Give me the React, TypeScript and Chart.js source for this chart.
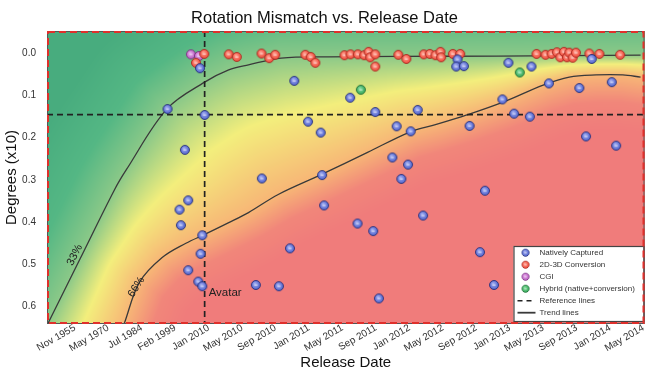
import React, { useEffect, useRef } from 'react';
import { Chart, registerables } from 'chart.js';

Chart.register(...registerables);

const FONT = "'Liberation Sans', Arial, Helvetica, sans-serif";
Chart.defaults.font.family = FONT;

// ---------------- data ----------------
const dateLabels = [
  'Nov 1955', 'May 1970', 'Jul 1984', 'Feb 1999', 'Jan 2010', 'May 2010',
  'Sep 2010', 'Jan 2011', 'May 2011', 'Sep 2011', 'Jan 2012', 'May 2012',
  'Sep 2012', 'Jan 2013', 'May 2013', 'Sep 2013', 'Jan 2014', 'May 2014',
];
const degreeTicks = [0, 0.1, 0.2, 0.3, 0.4, 0.5, 0.6];
const xExtent = [-0.712, 17.148];
const yExtent = [-0.0535, 0.6428];

const avatarDate = 4; // Jan 2010
const referenceDegree = 0.145;

const nativelyCaptured: [number, number][] = [
  [3.86, 0.035], [2.89, 0.132], [4.0, 0.146], [3.41, 0.229], [5.71, 0.297],
  [3.51, 0.349], [3.25, 0.371], [3.29, 0.408], [3.93, 0.432], [3.88, 0.476],
  [3.51, 0.515], [3.81, 0.542], [3.93, 0.553], [5.53, 0.55], [6.22, 0.553],
  [6.68, 0.065], [8.35, 0.105], [9.1, 0.139], [10.37, 0.134], [7.09, 0.162],
  [7.47, 0.188], [9.74, 0.173], [10.16, 0.185], [11.92, 0.172], [9.61, 0.247],
  [10.08, 0.264], [7.51, 0.289], [9.88, 0.298], [12.38, 0.326], [7.57, 0.361],
  [8.57, 0.404], [9.04, 0.422], [10.53, 0.385], [6.55, 0.463], [12.23, 0.472],
  [12.65, 0.55], [9.21, 0.582], [11.56, 0.014], [11.52, 0.031], [11.75, 0.03],
  [13.08, 0.022], [13.77, 0.031], [15.57, 0.013], [14.29, 0.071], [16.17, 0.068],
  [15.2, 0.082], [12.9, 0.109], [13.25, 0.143], [13.72, 0.15], [15.4, 0.197],
  [16.3, 0.219],
];

const conversion2D3D: [number, number][] = [
  [3.99, 0.001], [3.74, 0.022], [4.72, 0.002], [4.96, 0.008], [5.7, 0.0],
  [5.93, 0.011], [6.11, 0.003], [7.01, 0.003], [7.17, 0.008], [7.31, 0.022],
  [8.18, 0.004], [8.36, 0.002], [8.58, 0.002], [8.77, 0.004], [8.9, -0.004],
  [8.95, 0.009], [9.1, 0.002], [9.1, 0.031], [9.79, 0.003], [10.03, 0.013],
  [10.55, 0.002], [10.73, 0.001], [10.9, 0.004], [11.05, -0.004], [11.07, 0.009],
  [11.42, 0.001], [11.64, 0.001], [13.92, 0.001], [14.19, 0.003], [14.37, 0.001],
  [14.53, -0.003], [14.63, 0.009], [14.74, -0.004], [14.83, 0.009], [14.9, -0.002],
  [15.0, 0.01], [15.1, -0.002], [15.5, 0.0], [15.8, 0.001], [16.42, 0.003],
];

const cgi: [number, number][] = [[3.59, 0.002], [3.83, 0.006]];
const hybrid: [number, number][] = [[8.67, 0.086], [13.42, 0.045]];

const trend33: [number, number][] = [
  [-0.68, 0.641], [0.27, 0.489], [1.31, 0.323], [1.66, 0.276], [2.88, 0.131],
  [4.0, 0.068], [4.72, 0.039], [5.31, 0.027], [6.29, 0.011], [7.69, 0.008],
  [9.76, 0.007], [12.73, 0.006], [17.03, 0.004],
];
const trend66: [number, number][] = [
  [1.6, 0.641], [2.05, 0.544], [2.73, 0.485], [3.44, 0.451], [4.0, 0.43],
  [4.72, 0.402], [5.31, 0.378], [6.2, 0.335], [7.48, 0.288], [8.87, 0.235],
  [10.15, 0.186], [10.95, 0.168], [11.84, 0.146], [12.94, 0.115], [14.12, 0.075],
  [14.9, 0.056], [15.7, 0.051], [16.5, 0.051], [17.03, 0.056],
];

// annotation texts: [text, date index, degrees, angle]
const curveLabels: [string, number, number, number][] = [
  ['33%', 0.12, 0.479, -63],
  ['66%', 1.96, 0.555, -57],
];
const avatarLabel = { text: 'Avatar', degree: 0.569 };

// ---------------- helpers ----------------
const toXY = (arr: [number, number][]) => arr.map(([x, y]) => ({ x, y }));

function makeDot(base: string, light: string, edge: string): HTMLCanvasElement {
  const s = 12;
  const c = document.createElement('canvas');
  c.width = s;
  c.height = s;
  const g = c.getContext('2d')!;
  const grad = g.createRadialGradient(5, 4.6, 0.4, 6, 6, 4.8);
  grad.addColorStop(0, light);
  grad.addColorStop(1, base);
  g.beginPath();
  g.arc(6, 6, 4.5, 0, Math.PI * 2);
  g.fillStyle = grad;
  g.fill();
  g.lineWidth = 0.9;
  g.strokeStyle = edge;
  g.stroke();
  g.beginPath();
  g.moveTo(4.4, 6.1);
  g.lineTo(7.6, 6.1);
  g.strokeStyle = 'rgba(255,255,255,0.75)';
  g.lineWidth = 1;
  g.stroke();
  return c;
}

function segDist(px: number, py: number, ax: number, ay: number, bx: number, by: number) {
  const dx = bx - ax, dy = by - ay;
  const l2 = dx * dx + dy * dy;
  let t = l2 ? ((px - ax) * dx + (py - ay) * dy) / l2 : 0;
  t = Math.max(0, Math.min(1, t));
  const cx = ax + t * dx - px, cy = ay + t * dy - py;
  return Math.sqrt(cx * cx + cy * cy);
}
function curveYAt(poly: number[][], px: number) {
  if (px <= poly[0][0]) return poly[0][1];
  for (let i = 0; i < poly.length - 1; i++) {
    const [x0, y0] = poly[i];
    const [x1, y1] = poly[i + 1];
    if (px <= x1) return y0 + ((y1 - y0) * (px - x0)) / (x1 - x0 || 1);
  }
  return poly[poly.length - 1][1];
}
function signedDist(poly: number[][], px: number, py: number) {
  let best = Infinity;
  for (let i = 0; i < poly.length - 1; i++) {
    const d = segDist(px, py, poly[i][0], poly[i][1], poly[i + 1][0], poly[i + 1][1]);
    if (d < best) best = d;
  }
  return py > curveYAt(poly, px) ? best : -best;
}

const colorStops: [number, number[]][] = [
  [-1.0, [72, 172, 126]],
  [-0.45, [84, 183, 132]],
  [0, [140, 201, 136]],
  [0.45, [243, 238, 124]],
  [1.0, [247, 182, 118]],
  [1.5, [241, 134, 122]],
  [2.0, [240, 124, 123]],
];
function colorAt(u: number) {
  if (u <= colorStops[0][0]) return colorStops[0][1];
  for (let i = 0; i < colorStops.length - 1; i++) {
    const [u0, c0] = colorStops[i];
    const [u1, c1] = colorStops[i + 1];
    if (u <= u1) {
      const f = (u - u0) / (u1 - u0);
      return [c0[0] + (c1[0] - c0[0]) * f, c0[1] + (c1[1] - c0[1]) * f, c0[2] + (c1[2] - c0[2]) * f];
    }
  }
  return colorStops[colorStops.length - 1][1];
}

const backgroundPlugin = {
  id: 'bgField',
  beforeDatasetsDraw(chart: any) {
    const { ctx, chartArea: a, scales } = chart;
    const w = Math.round(a.right - a.left);
    const h = Math.round(a.bottom - a.top);
    const key = `${w}x${h}`;
    if (!chart.$bgField || chart.$bgField.key !== key) {
      const toPx = (pts: [number, number][]) =>
        pts.map(([x, y]) => [scales.x.getPixelForValue(x), scales.y.getPixelForValue(y)]);
      const extend = (p: number[][]) => {
        const dx = p[0][0] - p[1][0], dy = p[0][1] - p[1][1];
        const k = 700 / Math.hypot(dx, dy);
        const last = p[p.length - 1];
        return [[p[0][0] + dx * k, p[0][1] + dy * k], ...p, [last[0] + 500, last[1]]];
      };
      const c33 = extend(toPx(trend33));
      const c66 = extend(toPx(trend66));
      const off = document.createElement('canvas');
      off.width = w;
      off.height = h;
      const octx = off.getContext('2d')!;
      const img = octx.createImageData(w, h);
      for (let j = 0; j < h; j++) {
        const py = a.top + j + 0.5;
        for (let i = 0; i < w; i++) {
          const px = a.left + i + 0.5;
          const d33 = signedDist(c33, px, py);
          const d66 = signedDist(c66, px, py);
          let u;
          if (d33 <= 0) u = d33 / 90;
          else if (d66 >= 0) u = 1 + d66 / 55;
          else u = d33 / (d33 - d66);
          const c = colorAt(u);
          const idx = (j * w + i) * 4;
          img.data[idx] = c[0];
          img.data[idx + 1] = c[1];
          img.data[idx + 2] = c[2];
          img.data[idx + 3] = 255;
        }
      }
      octx.putImageData(img, 0, 0);
      chart.$bgField = { key, off };
    }
    ctx.drawImage(chart.$bgField.off, a.left, a.top);
  },
};

const annotationPlugin = {
  id: 'annotations',
  afterDatasetsDraw(chart: any) {
    const { ctx, scales } = chart;
    const { x, y } = scales;
    ctx.save();
    ctx.fillStyle = '#222';
    ctx.textBaseline = 'middle';
    ctx.textAlign = 'left';
    ctx.font = `11.5px ${FONT}`;
    ctx.fillText(avatarLabel.text, x.getPixelForValue(avatarDate) + 4, y.getPixelForValue(avatarLabel.degree));
    for (const [text, xv, yv, ang] of curveLabels) {
      ctx.save();
      ctx.translate(x.getPixelForValue(xv), y.getPixelForValue(yv));
      ctx.rotate((ang * Math.PI) / 180);
      ctx.textAlign = 'center';
      ctx.font = `11px ${FONT}`;
      ctx.fillText(text, 0, 0);
      ctx.restore();
    }
    ctx.restore();
  },
};

const framePlugin = {
  id: 'frameAndLegend',
  afterDraw(chart: any) {
    const { ctx, chartArea: a } = chart;
    ctx.save();
    // legend box
    const w = 130, h = 75;
    const x0 = a.right - 131, y0 = a.bottom - 78;
    ctx.fillStyle = '#ffffff';
    ctx.fillRect(x0, y0, w, h);
    ctx.strokeStyle = '#444';
    ctx.lineWidth = 1.2;
    ctx.strokeRect(x0 + 0.5, y0 + 0.5, w, h);
    const entries = chart.data.datasets.filter((d: any) => d.legendLabel);
    ctx.font = `8px ${FONT}`;
    ctx.textBaseline = 'middle';
    ctx.textAlign = 'left';
    entries.forEach((d: any, i: number) => {
      const yy = y0 + 6.7 + 12 * i;
      const mx = x0 + 12;
      if (d.legendKind === 'dot') {
        const img = d.pointStyle as HTMLCanvasElement;
        ctx.drawImage(img, mx - 4.8, yy - 4.8, 9.6, 9.6);
      } else {
        ctx.beginPath();
        ctx.moveTo(x0 + 4, yy);
        ctx.lineTo(x0 + 22, yy);
        ctx.strokeStyle = d.borderColor;
        ctx.lineWidth = d.legendKind === 'dash' ? 1.5 : 1.8;
        ctx.setLineDash(d.legendKind === 'dash' ? [5, 4] : []);
        ctx.stroke();
        ctx.setLineDash([]);
      }
      ctx.fillStyle = '#333';
      ctx.fillText(d.legendLabel, x0 + 26, yy);
    });
    // plot frame
    ctx.strokeStyle = '#555';
    ctx.lineWidth = 1;
    ctx.strokeRect(a.left + 0.5, a.top + 0.5, a.right - a.left - 1, a.bottom - a.top - 1);
    ctx.strokeStyle = '#e0302c';
    ctx.lineWidth = 2;
    ctx.setLineDash([7, 4]);
    ctx.strokeRect(a.left + 1, a.top + 1, a.right - a.left - 2, a.bottom - a.top - 2);
    ctx.restore();
  },
};

export default function App() {
  const ref = useRef<HTMLCanvasElement>(null);
  useEffect(() => {
    document.body.style.margin = '0';
    const blueDot = makeDot('#4c60cc', '#a4aef0', '#252f78');
    const redDot = makeDot('#ee4434', '#ffa090', '#a62a22');
    const purpleDot = makeDot('#b85ec0', '#e6a8ea', '#7a3080');
    const greenDot = makeDot('#33a858', '#86dc9e', '#1d6a36');

    const pointSet = (label: string, data: [number, number][], dot: HTMLCanvasElement) => ({
      label,
      legendLabel: label,
      legendKind: 'dot',
      data: toXY(data),
      pointStyle: dot,
      pointRadius: 4.5,
      showLine: false,
    });
    const lineSet = (data: { x: number; y: number }[], color: string, width: number, dash: number[], legendLabel?: string, kind?: string, tension = 0) => ({
      label: legendLabel || '',
      legendLabel,
      legendKind: kind,
      data,
      showLine: true,
      pointRadius: 0,
      borderColor: color,
      borderWidth: width,
      borderDash: dash,
      tension,
      fill: false,
    });

    const chart = new Chart(ref.current!, {
      type: 'scatter',
      data: {
        datasets: [
          pointSet('Natively Captured', nativelyCaptured, blueDot),
          pointSet('2D-3D Conversion', conversion2D3D, redDot),
          pointSet('CGI', cgi, purpleDot),
          pointSet('Hybrid (native+conversion)', hybrid, greenDot),
          lineSet([{ x: xExtent[0], y: referenceDegree }, { x: xExtent[1], y: referenceDegree }], '#222', 1.7, [6, 4], 'Reference lines', 'dash'),
          lineSet([{ x: avatarDate, y: yExtent[0] }, { x: avatarDate, y: yExtent[1] }], '#222', 1.7, [6, 4]),
          lineSet(toXY(trend33), '#3a3a3a', 1.3, [], 'Trend lines', 'line', 0.35),
          lineSet(toXY(trend66), '#3a3a3a', 1.3, [], undefined, undefined, 0.35),
        ] as any,
      },
      options: {
        animation: false,
        responsive: false,
        devicePixelRatio: 1,
        events: [],
        layout: { padding: { left: 0, right: 1, top: 0, bottom: 0 } },
        plugins: {
          legend: { display: false },
          tooltip: { enabled: false },
          title: {
            display: true,
            text: 'Rotation Mismatch vs. Release Date',
            color: '#111',
            font: { size: 16.5, weight: 'normal', family: FONT },
            padding: { top: 8.5, bottom: 2.7 },
          },
        },
        scales: {
          x: {
            type: 'linear',
            min: xExtent[0],
            max: xExtent[1],
            afterBuildTicks: (s: any) => {
              s.ticks = dateLabels.map((_, i) => ({ value: i }));
            },
            afterFit: (s: any) => {
              s.height = 50;
              s.paddingLeft = 0;
              s.paddingRight = 0;
            },
            ticks: {
              callback: (_v: any, i: number) => dateLabels[i],
              autoSkip: false,
              minRotation: 30,
              maxRotation: 30,
              padding: -2,
              labelOffset: 4,
              color: '#333',
              font: { size: 10 },
            },
            grid: { display: false, drawTicks: false },
            border: { display: false },
            title: {
              display: true,
              text: 'Release Date',
              color: '#111',
              font: { size: 15 },
              padding: { top: 2, bottom: 2 },
            },
          },
          y: {
            type: 'linear',
            reverse: true,
            min: yExtent[0],
            max: yExtent[1],
            afterBuildTicks: (s: any) => {
              s.ticks = degreeTicks.map((v) => ({ value: v }));
            },
            afterFit: (s: any) => {
              s.width = 47;
              s.paddingTop = 0;
              s.paddingBottom = 0;
            },
            ticks: {
              callback: (v: any) => Number(v).toFixed(1),
              padding: 11,
              color: '#333',
              font: { size: 10 },
            },
            grid: { display: false, drawTicks: false },
            border: { display: false },
            title: {
              display: true,
              text: 'Degrees (x10)',
              color: '#111',
              font: { size: 15 },
              padding: { top: 3, bottom: 3 },
            },
          },
        },
      } as any,
      plugins: [backgroundPlugin, annotationPlugin, framePlugin],
    });
    return () => chart.destroy();
  }, []);
  return (
    <div style={{ position: 'absolute', left: 0, top: 0, width: 650, height: 374 }}>
      <canvas ref={ref} width={650} height={374} style={{ display: 'block', width: 650, height: 374 }} />
    </div>
  );
}
